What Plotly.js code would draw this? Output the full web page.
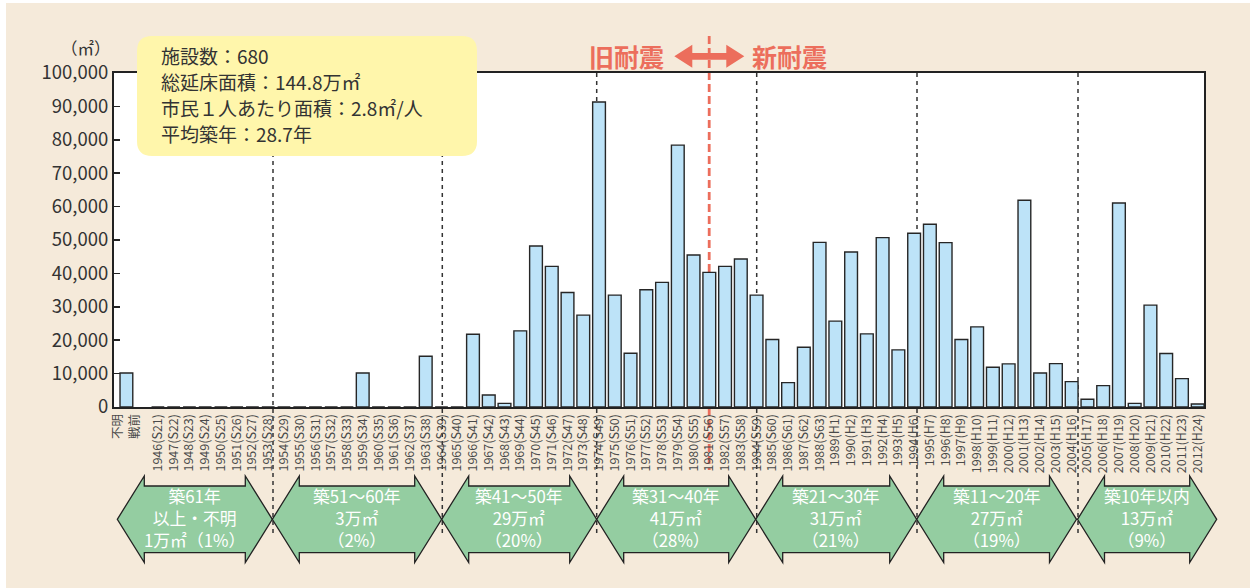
<!DOCTYPE html>
<html><head><meta charset="utf-8">
<script src="https://cdn.plot.ly/plotly-3.0.1.min.js"></script>
<style>html,body{margin:0;padding:0;background:#ffffff;}</style>
</head><body>
<div id="chart" style="width:1250px;height:588px;"></div>
<script>
// ---- data ----
const categories = ["不明<br>戦前"," ",
 "1946(S21)","1947(S22)","1948(S23)","1949(S24)","1950(S25)","1951(S26)","1952(S27)","1953(S28)","1954(S29)","1955(S30)",
 "1956(S31)","1957(S32)","1958(S33)","1959(S34)","1960(S35)","1961(S36)","1962(S37)","1963(S38)","1964(S39)","1965(S40)",
 "1966(S41)","1967(S42)","1968(S43)","1969(S44)","1970(S45)","1971(S46)","1972(S47)","1973(S48)","1974(S49)","1975(S50)",
 "1976(S51)","1977(S52)","1978(S53)","1979(S54)","1980(S55)","1981(S56)","1982(S57)","1983(S58)","1984(S59)","1985(S60)",
 "1986(S61)","1987(S62)","1988(S63)","1989(H1)","1990(H2)","1991(H3)","1992(H4)","1993(H5)","1994(H6)","1995(H7)",
 "1996(H8)","1997(H9)","1998(H10)","1999(H11)","2000(H12)","2001(H13)","2002(H14)","2003(H15)","2004(H16)","2005(H17)",
 "2006(H18)","2007(H19)","2008(H20)","2009(H21)","2010(H22)","2011(H23)","2012(H24)"];
const floorArea = [10200,null,
 0,0,0,0,0,0,0,0,0,0,
 0,0,0,10200,0,0,0,15200,0,0,
 21800,3600,1100,22800,48200,42100,34300,27500,91300,33500,
 16100,35100,37300,78400,45500,40300,42100,44300,33500,20200,
 7300,17900,49300,25700,46400,21900,50700,17100,52000,54700,
 49200,20200,24000,11900,12900,61900,10200,13000,7600,2300,
 6400,61100,1100,30500,16000,8500,900];
const yTicks = [0,10000,20000,30000,40000,50000,60000,70000,80000,90000,100000];
const summaryLines = ["施設数：680","総延床面積：144.8万㎡","市民１人あたり面積：2.8㎡/人","平均築年：28.7年"];
const groupLabels = [
 ["築61年","以上・不明","1万㎡（1%）"],
 ["築51～60年","3万㎡","（2%）"],
 ["築41～50年","29万㎡","（20%）"],
 ["築31～40年","41万㎡","（28%）"],
 ["築21～30年","31万㎡","（21%）"],
 ["築11～20年","27万㎡","（19%）"],
 ["築10年以内","13万㎡","（9%）"]
];

// ---- layout helpers (pixel -> paper) ----
const L=114, T=73, W=1090, H=334;
const px = x => (x-L)/W;
const py = y => (T+H-y)/H;
const FONT = "Noto Sans CJK JP, Noto Sans, sans-serif";
const RED = "#ec6e5c";
const CREAM = "#f5eada";

const shapes = [];
const annotations = [];

// background panel (thin white edge at left/top as in the reference) and white plot area
shapes.push({type:'rect',xref:'paper',yref:'paper',x0:px(6),x1:px(1250),y0:py(3),y1:py(588),fillcolor:CREAM,line:{width:0},layer:'below'});
shapes.push({type:'rect',xref:'paper',yref:'paper',x0:0,x1:1,y0:0,y1:1,fillcolor:'#ffffff',line:{width:0},layer:'below'});

// dashed separators
const sepX = [273,442.3,596.7,756.7,917,1078];
sepX.forEach(x=>shapes.push({type:'line',xref:'paper',yref:'paper',x0:px(x),x1:px(x),y0:py(73),y1:py(537),
  line:{color:'#333',width:1.5,dash:'4px,4px'},layer:'below'}));
// red 1981 line
shapes.push({type:'line',xref:'paper',yref:'paper',x0:px(709.2),x1:px(709.2),y0:py(36),y1:py(470),
  line:{color:RED,width:2.8,dash:'8px,4px'},layer:'below'});

// yellow rounded box
(function(){
  const x0=137,x1=477,y0=36,y1=156,r=15;
  const P=(x,y)=>px(x).toFixed(5)+','+py(y).toFixed(5);
  const path='M'+P(x0+r,y0)+' L'+P(x1-r,y0)+' Q'+P(x1,y0)+' '+P(x1,y0+r)+' L'+P(x1,y1-r)+' Q'+P(x1,y1)+' '+P(x1-r,y1)+
    ' L'+P(x0+r,y1)+' Q'+P(x0,y1)+' '+P(x0,y1-r)+' L'+P(x0,y0+r)+' Q'+P(x0,y0)+' '+P(x0+r,y0)+' Z';
  shapes.push({type:'path',xref:'paper',yref:'paper',path:path,fillcolor:'#fff6ab',line:{width:0},layer:'above'});
})();
const summaryY = [55.5,81.5,107.5,133.5];
summaryLines.forEach((t,i)=>annotations.push({xref:'paper',yref:'paper',x:px(159),y:py(summaryY[i]),xanchor:'left',yanchor:'middle',
  align:'left',showarrow:false,text:t,font:{family:FONT,size:19,color:'#333'}}));

// double-headed red arrow
(function(){
  const P=(x,y)=>px(x).toFixed(5)+','+py(y).toFixed(5);
  const a=674.3,b=744.3,c=56.3,hl=18,hh=11.5,hb=3.4;
  const path='M'+P(a,c)+' L'+P(a+hl,c-hh)+' L'+P(a+hl,c-hb)+' L'+P(b-hl,c-hb)+' L'+P(b-hl,c-hh)+' L'+P(b,c)+
    ' L'+P(b-hl,c+hh)+' L'+P(b-hl,c+hb)+' L'+P(a+hl,c+hb)+' L'+P(a+hl,c+hh)+' Z';
  shapes.push({type:'path',xref:'paper',yref:'paper',path:path,fillcolor:RED,line:{width:0},layer:'above'});
})();
annotations.push({xref:'paper',yref:'paper',x:px(626.5),y:py(56),xanchor:'center',yanchor:'middle',showarrow:false,
  text:'旧耐震',font:{family:FONT,size:25,color:RED,weight:700}});
annotations.push({xref:'paper',yref:'paper',x:px(789),y:py(56),xanchor:'center',yanchor:'middle',showarrow:false,
  text:'新耐震',font:{family:FONT,size:25,color:RED,weight:700}});

// unit label
annotations.push({xref:'paper',yref:'paper',x:px(113),y:py(48),xanchor:'right',yanchor:'middle',showarrow:false,
  text:'（㎡）',font:{family:FONT,size:16.5,color:'#333'}});

// green double arrows
const arrowB = [117.3,272.3,441.7,596.7,755.7,916.7,1076.5,1216.7];
for(let i=0;i<7;i++){
  let a=arrowB[i], b=arrowB[i+1];
  if(i===6) a=1077.5;
  const c=519.3,hl=27,hh=43.3,hb=33.3;
  const P=(x,y)=>px(x).toFixed(5)+','+py(y).toFixed(5);
  const path='M'+P(a,c)+' L'+P(a+hl,c-hh)+' L'+P(a+hl,c-hb)+' L'+P(b-hl,c-hb)+' L'+P(b-hl,c-hh)+' L'+P(b,c)+
    ' L'+P(b-hl,c+hh)+' L'+P(b-hl,c+hb)+' L'+P(a+hl,c+hb)+' L'+P(a+hl,c+hh)+' Z';
  shapes.push({type:'path',xref:'paper',yref:'paper',path:path,fillcolor:'#94cda1',line:{color:'#222',width:1.3},layer:'above'});
  annotations.push({xref:'paper',yref:'paper',x:px((a+b)/2),y:py(518),xanchor:'center',yanchor:'middle',
    showarrow:false,text:groupLabels[i].join('<br>'),font:{family:FONT,size:16.8,color:'#ffffff'}});
}

const trace = {
  type:'bar', x:categories, y:floorArea,
  marker:{color:'#bde3f8',line:{color:'#262626',width:1.4}},
  hoverinfo:'skip'
};

const layout = {
  width:1250,height:588,
  margin:{l:L,r:1250-L-W,t:T,b:588-T-H,autoexpand:false},
  paper_bgcolor:'#ffffff',plot_bgcolor:'#ffffff',
  showlegend:false,bargap:0.19,
  font:{family:FONT},
  xaxis:{type:'category',range:[-0.787,68.4],tickangle:-90,ticks:'',showgrid:false,zeroline:false,
    showline:true,linecolor:'#222',linewidth:2,mirror:true,automargin:false,
    tickfont:{family:FONT,size:12.5,color:'#4a4a4a'}},
  yaxis:{range:[0,100000],tickvals:yTicks,tickformat:',d',ticks:'inside',ticklen:6,tickwidth:1.5,tickcolor:'#222',
    showgrid:false,zeroline:false,showline:true,linecolor:'#222',linewidth:2,mirror:true,automargin:false,
    tickfont:{family:FONT,size:18.5,color:'#333'}},
  shapes:shapes,annotations:annotations
};
Plotly.newPlot('chart',[trace],layout,{displayModeBar:false,staticPlot:true});
</script>
</body></html>
